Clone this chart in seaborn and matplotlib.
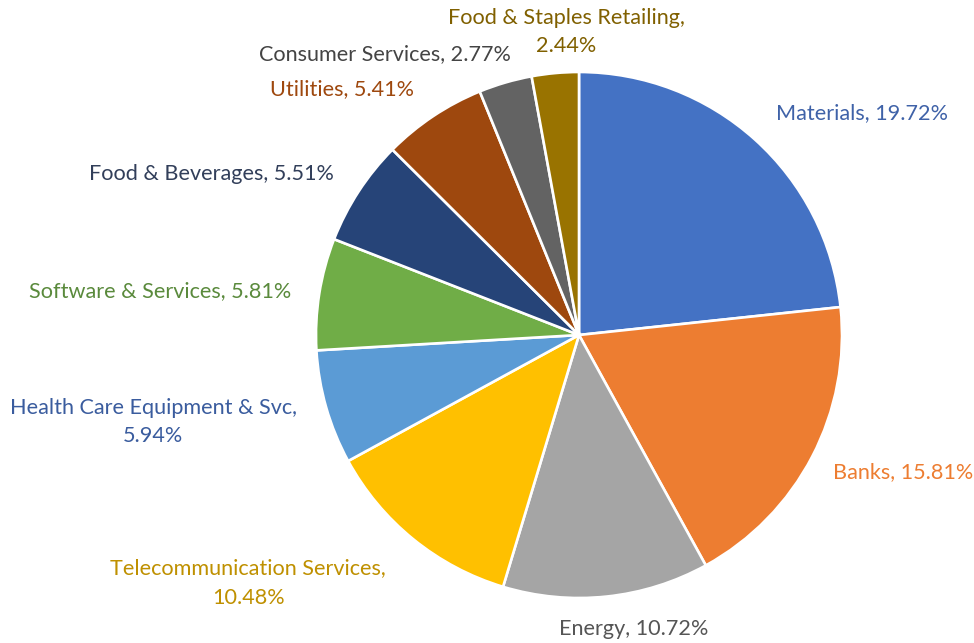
import matplotlib
matplotlib.use("Agg")
import matplotlib.pyplot as plt
import seaborn as sns

categories = ["Materials", "Banks", "Energy", "Telecommunication Services",
              "Health Care Equipment & Svc", "Software & Services",
              "Food & Beverages", "Utilities", "Consumer Services",
              "Food & Staples Retailing"]
values = [19.72, 15.81, 10.72, 10.48, 5.94, 5.81, 5.51, 5.41, 2.77, 2.44]

# label text, with line breaks as in the reference
label_texts = ["Materials, 19.72%", "Banks, 15.81%", "Energy, 10.72%",
               "Telecommunication Services,\n10.48%",
               "Health Care Equipment & Svc,\n5.94%",
               "Software & Services, 5.81%", "Food & Beverages, 5.51%",
               "Utilities, 5.41%", "Consumer Services, 2.77%",
               "Food & Staples Retailing,\n2.44%"]

# styling (not data)
slice_colors = ["#4472C4", "#ED7D31", "#A5A5A5", "#FFC000", "#5B9BD5",
                "#70AD47", "#264478", "#9E480E", "#636363", "#997300"]
label_colors = ["#3F62A8", "#ED7D31", "#555555", "#BF9000", "#3A5C9E",
                "#5A8A3C", "#323F5A", "#9E480E", "#444444", "#806000"]
# label centre positions in pixel coordinates of the 974x643 canvas
label_px = [(862, 113), (903, 472), (634, 629), (248, 583), (153, 422),
            (160, 291), (211, 174), (342, 89), (385, 54), (566, 32)]
LINE_GAP = 29  # px between wrapped label lines

sns.set_theme(style="white")
plt.rcParams["font.family"] = ["Lato", "DejaVu Sans"]

W, H, DPI = 974, 643, 100
CX, CY, R = 579, 335, 263

fig = plt.figure(figsize=(W / DPI, H / DPI), dpi=DPI)
ax = fig.add_axes([0, 0, 1, 1])
palette = sns.color_palette(slice_colors)
ax.pie(values, colors=palette, startangle=90, counterclock=False,
       radius=1, wedgeprops=dict(edgecolor="white", linewidth=1.9))
ax.set_xlim(-CX / R, (W - CX) / R)
ax.set_ylim(-(H - CY) / R, CY / R)
ax.set_aspect("equal")
ax.axis("off")

for txt, col, (px, py) in zip(label_texts, label_colors, label_px):
    lines = txt.split("\n")
    n = len(lines)
    for i, line in enumerate(lines):
        ly = py + (i - (n - 1) / 2) * LINE_GAP
        ax.text((px - CX) / R, (CY - ly) / R, line, color=col,
                fontsize=15.6, ha="center", va="center")

fig.savefig("out.png", dpi=DPI, facecolor="white")
